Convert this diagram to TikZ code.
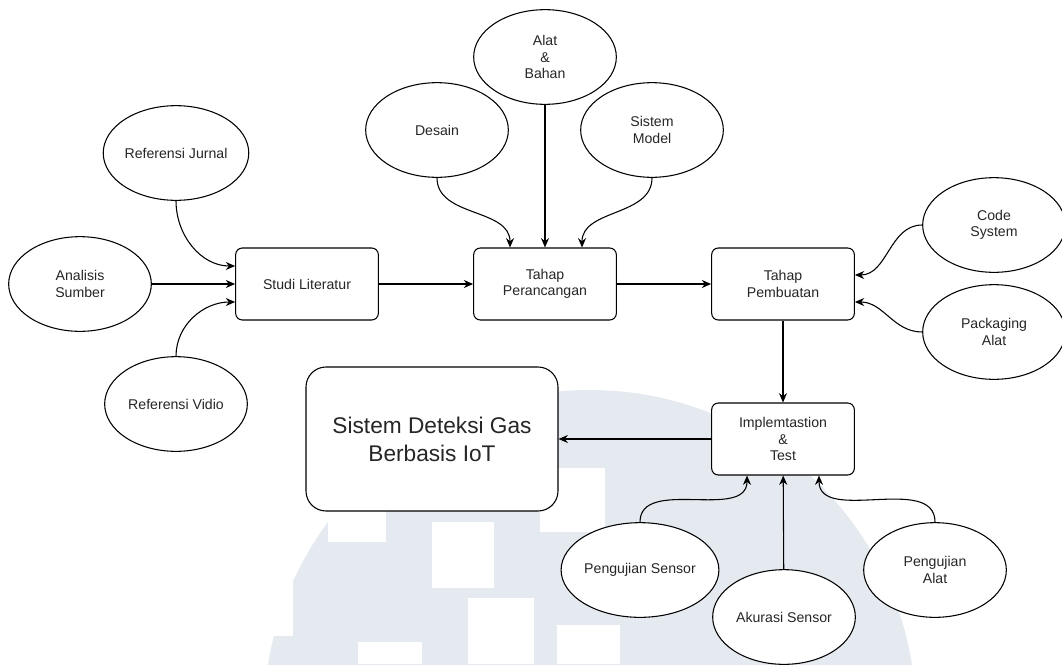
\documentclass[tikz,border=0pt]{standalone}
\usepackage{fontspec}
\setmainfont{Liberation Sans}
\usetikzlibrary{shapes.geometric,arrows.meta,calc}
\definecolor{wmgray}{RGB}{229,233,240}

\begin{document}
\begin{tikzpicture}[x=0.75pt,y=-0.75pt,
  every node/.style={font=\fontsize{10.6}{12.5}\selectfont,align=center,text=black!85},
  oval/.style={draw,ellipse,minimum width=107pt,minimum height=71pt,inner sep=0pt,line width=0.8pt,fill=white},
  stage/.style={draw,rounded corners=5pt,minimum width=107pt,minimum height=54pt,line width=0.8pt,fill=white},
  flow/.style={-{Stealth[length=7pt,width=6pt]},line width=0.8pt},
  watermark/.style={fill=wmgray}]
  \useasboundingbox (0,0) rectangle (1062,664);
  \begin{scope}
    \clip (0,0) rectangle (1062,664);
    \fill[watermark] (590,716) circle (326);
    \fill[white] (250,560) rectangle (293,636);
    \fill[white] (328,505) rectangle (386,542);
    \fill[white] (432,522) rectangle (494,588);
    \fill[white] (540,468) rectangle (605,532);
    \fill[white] (468,598) rectangle (534,664);
    \fill[white] (358,642) rectangle (422,664);
    \fill[white] (557,625) rectangle (620,664);
  \end{scope}

  \node[oval] (jurnal) at (176,153) {Referensi Jurnal};
  \node[oval] (analisis) at (80,284) {Analisis\\Sumber};
  \node[oval] (vidio) at (176,404) {Referensi Vidio};
  \node[stage] (studi) at (307,284) {Studi Literatur};

  \node[oval] (alat) at (545,57) {Alat\\\&\\Bahan};
  \node[oval] (desain) at (437,130) {Desain};
  \node[oval] (model) at (652,130) {Sistem\\Model};
  \node[stage] (rancang) at (545,284) {Tahap\\Perancangan};

  \node[stage] (buat) at (783,284) {Tahap\\Pembuatan};
  \node[oval] (code) at (994,225) {Code\\System};
  \node[oval] (packaging) at (994,332) {Packaging\\Alat};

  \node[stage] (impl) at (783,439) {Implemtastion\\\&\\Test};
  \node[draw,rounded corners=15pt,minimum width=189pt,minimum height=108pt,line width=0.8pt,fill=white,
    font=\fontsize{17}{21}\selectfont] (hasil) at (432,439) {Sistem Deteksi Gas\\Berbasis IoT};

  \node[oval] (ujisensor) at (640,570) {Pengujian Sensor};
  \node[oval] (akurasi) at (784,617) {Akurasi Sensor};
  \node[oval] (ujialat) at (935,570) {Pengujian\\Alat};

  \draw[flow] (jurnal.south) to[out=-90,in=180] ($(studi.west)+(0,-18)$);
  \draw[flow] (analisis.east) -- (studi.west);
  \draw[flow] (vidio.north) to[out=90,in=180] ($(studi.west)+(0,18)$);
  \draw[flow] (studi) -- (rancang);
  \draw[flow] (desain.south) to[out=-90,in=90] ($(rancang.north)+(-35,0)$);
  \draw[flow] (alat) -- (rancang);
  \draw[flow] (model.south) to[out=-90,in=90] ($(rancang.north)+(37,0)$);
  \draw[flow] (rancang) -- (buat);
  \draw[flow] (code.west) to[out=180,in=0] ($(buat.east)+(0,-9)$);
  \draw[flow] (packaging.west) to[out=180,in=0] ($(buat.east)+(0,18)$);
  \draw[flow] (buat) -- (impl);
  \draw[flow] (impl) -- (hasil);
  \draw[flow] (ujisensor.north) to[out=90,in=-90] ($(impl.south)+(-36,0)$);
  \draw[flow] (akurasi) -- (impl);
  \draw[flow] (ujialat.north) to[out=90,in=-90] ($(impl.south)+(36,0)$);
\end{tikzpicture}
\end{document}
